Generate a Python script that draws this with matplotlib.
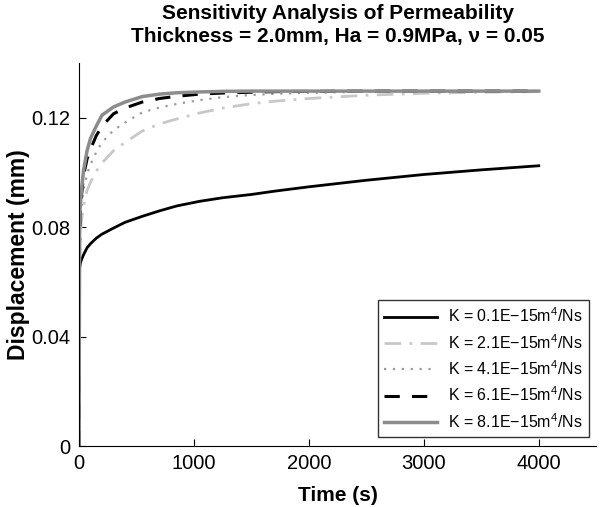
import matplotlib
matplotlib.use("Agg")
import matplotlib.pyplot as plt

plt.rcParams["font.family"] = ["Liberation Sans", "DejaVu Sans"]
plt.rcParams["mathtext.fontset"] = "custom"
plt.rcParams["mathtext.rm"] = "Liberation Sans"

# time grid shared by all curves (s)
time = [0, 5, 10, 20, 40, 70, 100, 150, 200, 300, 400, 550, 700, 850, 1050,
        1250, 1500, 1700, 2000, 2500, 3000, 3500, 4000]

# displacement (mm)
k01 = [0, 0.065, 0.0665, 0.068, 0.070, 0.0725, 0.0740, 0.0760, 0.0775, 0.0797,
       0.0818, 0.0840, 0.0860, 0.0878, 0.0895, 0.0908, 0.0920, 0.0932, 0.0948,
       0.0972, 0.0993, 0.1010, 0.1025]
k21 = [0, 0.068, 0.075, 0.082, 0.088, 0.0935, 0.0965, 0.1005, 0.1035, 0.108,
       0.111, 0.1152, 0.1178, 0.1196, 0.1218, 0.1236, 0.1252, 0.1261, 0.1271,
       0.1283, 0.1290, 0.1294, 0.1296]
k41 = [0, 0.072, 0.080, 0.087, 0.094, 0.0995, 0.103, 0.1075, 0.111, 0.1155,
       0.1183, 0.1220, 0.1238, 0.1251, 0.1265, 0.1276, 0.1284, 0.1288, 0.1292,
       0.1296, 0.1297, 0.1298, 0.1298]
k61 = [0, 0.076, 0.084, 0.091, 0.099, 0.105, 0.1085, 0.1135, 0.117, 0.1215,
       0.1236, 0.1258, 0.1271, 0.1279, 0.1287, 0.1291, 0.1294, 0.1296, 0.1297,
       0.1298, 0.1298, 0.1298, 0.1298]
k81 = [0, 0.080, 0.087, 0.093, 0.101, 0.108, 0.1125, 0.117, 0.1210, 0.1240,
       0.1258, 0.1278, 0.1287, 0.1292, 0.1295, 0.1297, 0.1298, 0.1298, 0.1298,
       0.1298, 0.1298, 0.1298, 0.1298]

labels = ["K = 0.1E\u221215m$^4$/Ns", "K = 2.1E\u221215m$^4$/Ns",
          "K = 4.1E\u221215m$^4$/Ns", "K = 6.1E\u221215m$^4$/Ns",
          "K = 8.1E\u221215m$^4$/Ns"]

fig = plt.figure(figsize=(6, 5.07), dpi=100)
ax = fig.add_axes([0.1317, 0.1203, 0.862, 0.755])

ax.plot(time, k01, color="black", lw=2.0, label=labels[0])
ax.plot(time, k21, color="#c8c8c8", lw=2.0, ls=(0, (6, 3, 1, 3)), label=labels[1])
ax.plot(time, k41, color="#9a9a9a", lw=1.6, ls=(0, (1, 3)), label=labels[2])
ax.plot(time, k61, color="black", lw=2.2, ls=(0, (5, 4)), label=labels[3])
ax.plot(time, k81, color="#8c8c8c", lw=2.5, label=labels[4])

ax.set_xlim(0, 4500)
ax.set_ylim(0, 0.14)
ax.set_xticks([0, 1000, 2000, 3000, 4000])
ax.set_yticks([0, 0.04, 0.08, 0.12])
ax.set_yticklabels(["0", "0.04", "0.08", "0.12"])
ax.tick_params(direction="in", labelsize=14.5, length=5, pad=6)
ax.spines["top"].set_visible(False)
ax.spines["right"].set_visible(False)

ax.set_xlabel("Time (s)", fontsize=15, fontweight="bold", labelpad=9)
ax.set_ylabel("Displacement (mm)", fontsize=16.5, fontweight="bold", labelpad=1)
ax.set_title("Sensitivity Analysis of Permeability\n"
             "Thickness = 2.0mm, Ha = 0.9MPa, \u03bd = 0.05",
             fontsize=15, fontweight="bold", pad=15, linespacing=1.3)

leg = ax.legend(loc="lower right", bbox_to_anchor=(0.986, 0.0235), fontsize=11.5,
                frameon=True, fancybox=False, edgecolor="black",
                handlelength=3.3, handletextpad=0.7, borderpad=0.4,
                labelspacing=0.48, borderaxespad=0)
leg.get_frame().set_linewidth(1.0)

fig.savefig("out.png", dpi=100)
